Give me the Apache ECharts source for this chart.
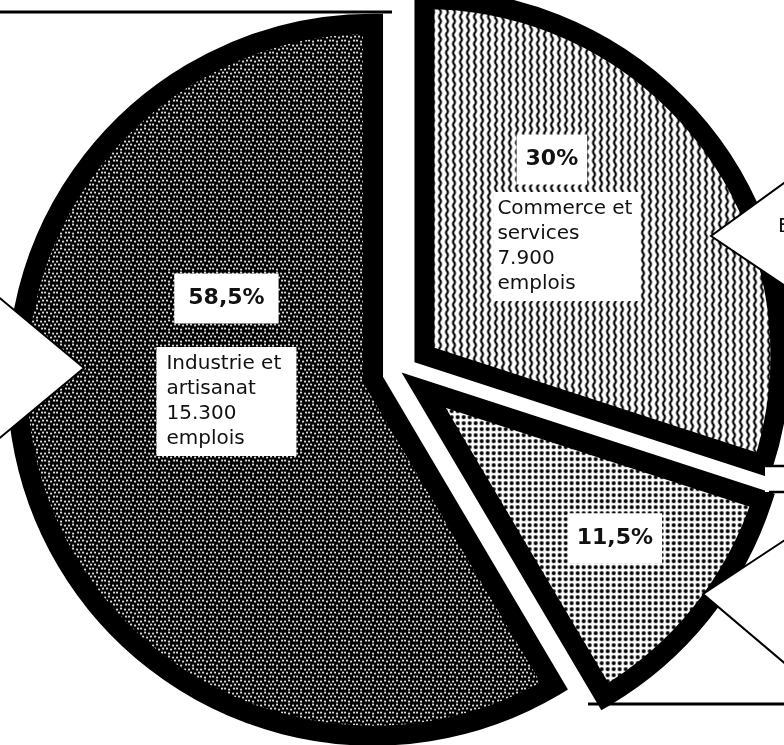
<!DOCTYPE html>
<html>
<head>
<meta charset="utf-8">
<script src="https://cdn.jsdelivr.net/npm/echarts@6/dist/echarts.min.js"></script>
<style>
  html, body { margin: 0; padding: 0; background: #ffffff; }
  #chart { width: 784px; height: 745px; }
</style>
</head>
<body>
<div id="chart"></div>
<script>
// ---------------- data ----------------
const categories   = ['Commerce et services', 'Secteur 3', 'Industrie et artisanat'];
const shares       = [30, 11.5, 58.5];
const shareLabels  = ['30%', '11,5%', '58,5%'];
const sectorLines  = [['Commerce et', 'services'], [], ['Industrie et', 'artisanat']];
const jobCounts    = ['7.900', '', '15.300'];
const jobUnit      = 'emplois';

// ---------------- fill textures ----------------
function makeCanvas(w, h) { const c = document.createElement('canvas'); c.width = w; c.height = h; return c; }
function speckleTexture() {
  const c = makeCanvas(12, 12), g = c.getContext('2d');
  g.fillStyle = '#000'; g.fillRect(0, 0, 12, 12);
  g.fillStyle = '#fff';
  [[0, 1], [4, 0], [8, 1], [2, 4], [6, 5], [10, 4], [0, 8], [4, 9], [9, 8]]
    .forEach(p => g.fillRect(p[0], p[1], 2, 1.6));
  return c;
}
function waveTexture() {
  const c = makeCanvas(7, 9), g = c.getContext('2d');
  g.fillStyle = '#fff'; g.fillRect(0, 0, 7, 9);
  g.strokeStyle = '#000'; g.lineWidth = 2.2; g.beginPath();
  for (let y = -1; y <= 10; y += 0.5) {
    const x = 3.5 + 0.9 * Math.sin(y / 9 * 2 * Math.PI);
    if (y === -1) g.moveTo(x, y); else g.lineTo(x, y);
  }
  g.stroke();
  return c;
}
function halftoneTexture() {
  const c = makeCanvas(6, 6), g = c.getContext('2d');
  g.fillStyle = '#fff'; g.fillRect(0, 0, 6, 6);
  g.fillStyle = '#000';
  g.beginPath(); g.arc(3, 3, 2.0, 0, Math.PI * 2); g.fill();
  return c;
}
const fills = [
  { image: waveTexture(), repeat: 'repeat' },
  { image: halftoneTexture(), repeat: 'repeat' },
  { image: speckleTexture(), repeat: 'repeat' }
];

// label placement (style/layout only)
const labelStyleByIndex = [
  { shiftX: -4, shiftY: -31, pct: 'pctS', gap: 'gapS', desc: 'C', spacer: true },
  { shiftX: 50, shiftY: 35,  pct: 'pctS', gap: null,   desc: null, spacer: false },
  { shiftX: 28, shiftY: -63, pct: 'pctL', gap: 'gapL', desc: 'I', spacer: false }
];

function buildLabel(i) {
  const st = labelStyleByIndex[i];
  let s = '{' + st.pct + '|' + shareLabels[i] + '}' + (st.spacer ? '{sp| }' : '');
  if (st.desc) {
    const lines = sectorLines[i].concat([jobCounts[i], jobUnit]);
    s += '\n{' + st.gap + '| }';
    lines.forEach((ln, k) => {
      const kind = k === 0 ? 'Top' : (k === lines.length - 1 ? 'Bot' : 'Mid');
      s += '\n{d' + st.desc + kind + '|' + ln + '}';
    });
  }
  return s;
}

const FONT = '"DejaVu Sans", "Liberation Sans", sans-serif';
function descStyle(width, pl, pr, kind) {
  const padTop = kind === 'Top' ? 4 : 0;
  const padBot = kind === 'Bot' ? 4 : 0;
  return {
    fontFamily: FONT, fontSize: 20, color: '#111', backgroundColor: '#fff',
    width: width, height: 26, lineHeight: 25 + padTop + padBot,
    padding: [padTop, pr, padBot, pl], align: 'left'
  };
}
const rich = {
  pctL: { fontFamily: FONT, fontWeight: 'bold', fontSize: 22, color: '#111', backgroundColor: '#fff',
          height: 22, lineHeight: 50, padding: [14, 14, 14, 14] },
  pctS: { fontFamily: FONT, fontWeight: 'bold', fontSize: 22, color: '#111', backgroundColor: '#fff',
          height: 22, lineHeight: 50, padding: [14, 9, 14, 9] },
  sp:   { width: 30, fontSize: 10 },
  gapL: { height: 24, lineHeight: 24, fontSize: 10 },
  gapS: { height: 8, lineHeight: 8, fontSize: 6 }
};
['Top', 'Mid', 'Bot'].forEach(k => {
  rich['dI' + k] = descStyle(122, 10, 8, k);
  rich['dC' + k] = descStyle(142, 4, 1, k);
});

const pieData = categories.map((name, i) => ({
  name: name,
  value: shares[i],
  selected: true,
  itemStyle: { color: fills[i] }
}));

const chart = echarts.init(document.getElementById('chart'), null, { renderer: 'canvas' });
chart.setOption({
  animation: false,
  backgroundColor: '#ffffff',
  series: [{
    type: 'pie',
    center: [401, 372],
    radius: 356,
    startAngle: 90,
    clockwise: true,
    selectedMode: 'multiple',
    selectedOffset: 29,
    avoidLabelOverlap: false,
    emphasis: { disabled: true },
    itemStyle: { borderColor: '#000', borderWidth: 20, borderJoin: 'miter' },
    select: { itemStyle: { borderColor: '#000', borderWidth: 20 } },
    label: {
      show: true,
      position: 'inside',
      formatter: p => buildLabel(p.dataIndex),
      rich: rich
    },
    labelLayout: p => ({ dx: labelStyleByIndex[p.dataIndex].shiftX, dy: labelStyleByIndex[p.dataIndex].shiftY }),
    labelLine: { show: false },
    data: pieData
  }],
  graphic: [
    { type: 'rect', z: 100, shape: { x: 0, y: 0, width: 398, height: 11 }, style: { fill: '#fff' } },
    { type: 'line', z: 101, shape: { x1: 0, y1: 12, x2: 392, y2: 12 }, style: { stroke: '#000', lineWidth: 3 } },
    { type: 'polygon', z: 100, shape: { points: [[-4, 295], [84, 368], [-4, 441]] }, style: { fill: '#fff', stroke: '#000', lineWidth: 2 } },
    { type: 'polygon', z: 100, shape: { points: [[788, 180], [711, 236], [788, 288]] }, style: { fill: '#fff', stroke: '#000', lineWidth: 2 } },
    { type: 'text', z: 102, x: 778, y: 227, style: { text: 'E', font: '20px "DejaVu Sans"', fill: '#111', verticalAlign: 'middle' } },
    { type: 'rect', z: 100, shape: { x: 765, y: 466, width: 25, height: 26 }, style: { fill: '#fff' } },
    { type: 'line', z: 101, shape: { x1: 764, y1: 466, x2: 790, y2: 466 }, style: { stroke: '#000', lineWidth: 2.5 } },
    { type: 'line', z: 101, shape: { x1: 769, y1: 492, x2: 790, y2: 492 }, style: { stroke: '#000', lineWidth: 2.5 } },
    { type: 'polygon', z: 100, shape: { points: [[788, 538], [703, 594], [788, 666]] }, style: { fill: '#fff', stroke: '#000', lineWidth: 2 } },
    { type: 'line', z: 101, shape: { x1: 588, y1: 704, x2: 790, y2: 704 }, style: { stroke: '#000', lineWidth: 3 } }
  ]
});
</script>
</body>
</html>
